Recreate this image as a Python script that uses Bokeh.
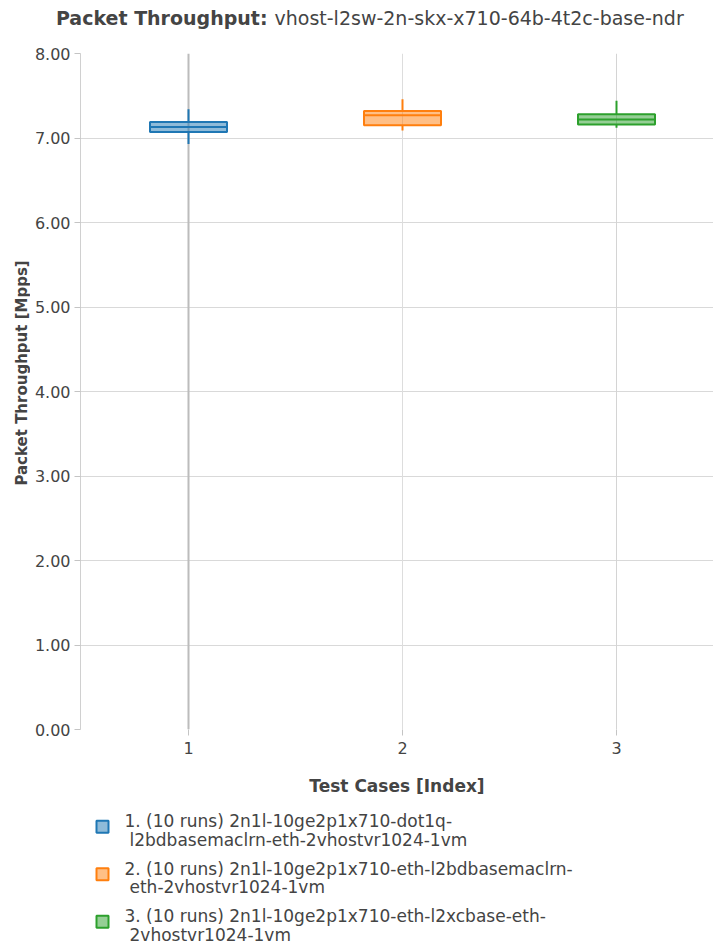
import numpy as np
from bokeh.plotting import figure
from bokeh.layouts import column, row
from bokeh.models import (ColumnDataSource, Range1d, FixedTicker, PrintfTickFormatter, Span)
from bokeh.core.properties import value
from bokeh.embed import file_html
from bokeh.resources import INLINE

# ---------------- data ----------------
test_index = [1, 2, 3]
runs = [10, 10, 10]
test_names = [
    ["2n1l-10ge2p1x710-dot1q-", "l2bdbasemaclrn-eth-2vhostvr1024-1vm"],
    ["2n1l-10ge2p1x710-eth-l2bdbasemaclrn-", "eth-2vhostvr1024-1vm"],
    ["2n1l-10ge2p1x710-eth-l2xcbase-eth-", "2vhostvr1024-1vm"],
]
tp_min = [6.93, 7.09, 7.12]
tp_q1 = [7.07, 7.15, 7.16]
tp_median = [7.13, 7.27, 7.22]
tp_q3 = [7.19, 7.32, 7.28]
tp_max = [7.34, 7.46, 7.44]
colors = ["#1f77b4", "#ff7f0e", "#2ca02c"]
y_ticks = [0, 1, 2, 3, 4, 5, 6, 7, 8]

FONT = "DejaVu Sans"
TXT = "#444444"
W = 713
HALF = 0.18


def blank_fig(w, h):
    f = figure(width=w, height=h, x_range=Range1d(0, w), y_range=Range1d(h, 0),
               x_axis_type=None, y_axis_type=None, toolbar_location=None,
               output_backend="svg", min_border=0, outline_line_color=None)
    f.grid.visible = False
    return f


# ---------------- title ----------------
TH = 38
t = blank_fig(W, TH)
t.text(x=[267], y=[17], text=["Packet Throughput:"], text_font=value(FONT),
       text_font_size="19px", text_font_style="bold", text_color=TXT,
       text_align="right", text_baseline="alphabetic")
t.text(x=[274], y=[17], text=["vhost-l2sw-2n-skx-x710-64b-4t2c-base-ndr"],
       text_font=value(FONT), text_font_size="19px", text_color=TXT,
       text_align="left", text_baseline="alphabetic")

# ---------------- y axis title ----------------
MH = 766
YLW = 30
yl = blank_fig(YLW, MH)
yl.text(x=[21], y=[400 - TH], text=["Packet Throughput [Mpps]"], angle=np.pi / 2,
        text_font=value(FONT), text_font_size="15px", text_font_style="bold",
        text_color=TXT, text_align="center", text_baseline="middle")

# ---------------- main plot ----------------
p = figure(width=W - YLW, height=MH, x_range=Range1d(0.4953, 3.4533), y_range=Range1d(0, 8),
           toolbar_location=None, output_backend="svg",
           min_border_left=80 - YLW, min_border_right=0, min_border_top=53 - TH,
           min_border_bottom=MH - (729 - TH), outline_line_color=None)

src = ColumnDataSource(dict(
    x=test_index,
    left=[i - HALF for i in test_index], right=[i + HALF for i in test_index],
    lo=tp_min, q1=tp_q1, med=tp_median, q3=tp_q3, hi=tp_max, color=colors,
))

for xv, c, w in [(1, "#bcbcbc", 2), (2, "#dddddd", 1), (3, "#d4d4d4", 1)]:
    p.add_layout(Span(location=xv, dimension="height", line_color=c, line_width=w,
                      level="underlay"))

p.segment(x0="x", y0="q3", x1="x", y1="hi", source=src, line_color="color", line_width=2)
p.segment(x0="x", y0="lo", x1="x", y1="q1", source=src, line_color="color", line_width=2)
p.quad(left="left", right="right", bottom="q1", top="q3", source=src,
       fill_color="color", fill_alpha=0.5, line_color="color", line_width=2)
p.segment(x0="left", y0="med", x1="right", y1="med", source=src, line_color="color", line_width=2)

p.xgrid.visible = False
p.ygrid.grid_line_color = "#d9d9d9"
p.ygrid.grid_line_width = 1
p.ygrid.ticker = FixedTicker(ticks=y_ticks)

p.yaxis.ticker = FixedTicker(ticks=y_ticks)
p.yaxis.formatter = PrintfTickFormatter(format="%.2f")
p.xaxis.ticker = FixedTicker(ticks=test_index)

for ax in (p.xaxis[0], p.yaxis[0]):
    ax.major_label_text_font = FONT
    ax.major_label_text_font_size = "16px"
    ax.major_label_text_color = TXT
    ax.major_tick_in = 0
    ax.major_tick_out = 6
    ax.minor_tick_line_color = None
    ax.major_tick_line_color = "#c4c4c4"
p.yaxis.major_label_standoff = 4
p.xaxis.major_label_standoff = 6

p.yaxis.axis_line_color = "#d0d0d0"
p.xaxis.axis_line_color = None
p.xaxis.axis_label = "Test Cases [Index]"
p.xaxis.axis_label_text_font = FONT
p.xaxis.axis_label_text_font_size = "17px"
p.xaxis.axis_label_text_font_style = "bold"
p.xaxis.axis_label_text_color = TXT
p.xaxis.axis_label_standoff = 19

# ---------------- legend ----------------
LTOP = TH + MH
LH = 945 - LTOP
lg = blank_fig(W, LH)
base = [826.7 - LTOP + 47.5 * k for k in range(len(test_index))]
lsrc = ColumnDataSource(dict(
    sx=[102] * len(base), sy=[b - 0.5 for b in base], color=colors,
    x1=[124] * len(base), y1=[b - 6 for b in base],
    x2=[129] * len(base), y2=[b + 12.5 for b in base],
    t1=[f"{i}. ({r} runs) {n[0]}" for i, r, n in zip(test_index, runs, test_names)],
    t2=[n[1] for n in test_names],
))
lg.rect(x="sx", y="sy", width=12, height=12, source=lsrc, fill_color="color",
        fill_alpha=0.5, line_color="color", line_width=2)
lg.text(x="x1", y="y1", text="t1", source=lsrc, text_font=value(FONT), text_font_size="17px",
        text_color=TXT, text_baseline="alphabetic")
lg.text(x="x2", y="y2", text="t2", source=lsrc, text_font=value(FONT), text_font_size="17px",
        text_color=TXT, text_baseline="alphabetic")

layout = column(t, row(yl, p, spacing=0), lg, spacing=0)
open("out.html", "w").write(file_html(layout, INLINE))
